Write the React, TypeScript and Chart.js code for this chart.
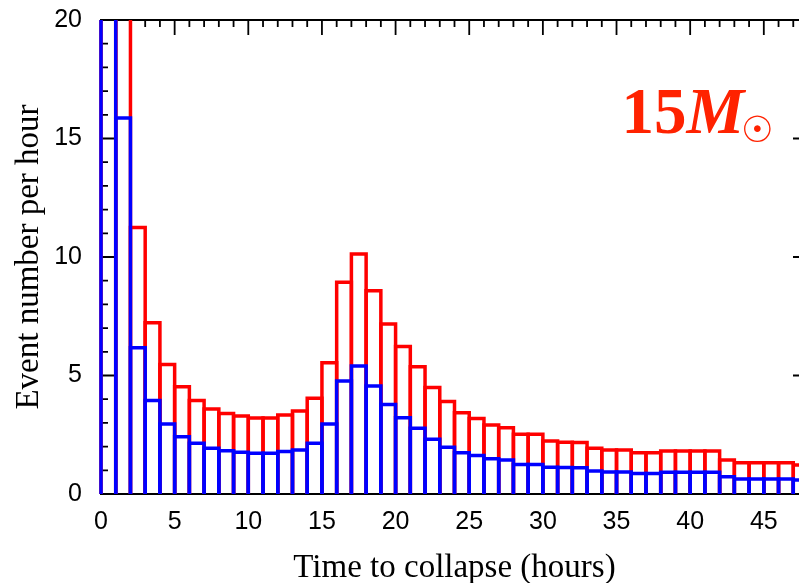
import React, { useEffect, useRef } from 'react';
import { Chart, BarController, BarElement, registerables } from 'chart.js';

// Start of each one-hour bin (hours before collapse)
const hours = [
  0, 1, 2, 3, 4, 5, 6, 7, 8, 9, 10, 11, 12, 13, 14, 15, 16, 17, 18, 19, 20, 21, 22, 23,
  24, 25, 26, 27, 28, 29, 30, 31, 32, 33, 34, 35, 36, 37, 38, 39, 40, 41, 42, 43, 44, 45, 46, 47,
];

// Event rate per hour, upper (red) histogram
const rateUpper = [
  34, 24, 11.24, 7.23, 5.46, 4.53, 3.94, 3.59, 3.4, 3.29,
  3.21, 3.21, 3.33, 3.5, 4.04, 5.54, 8.93, 10.13, 8.58, 7.17,
  6.22, 5.37, 4.49, 3.9, 3.43, 3.19, 2.91, 2.8, 2.52, 2.52,
  2.24, 2.18, 2.17, 1.93, 1.86, 1.86, 1.74, 1.74, 1.81, 1.81,
  1.81, 1.81, 1.43, 1.32, 1.32, 1.32, 1.32, 1.22,
];

// Event rate per hour, lower (blue) histogram
const rateLower = [
  26, 15.87, 6.17, 3.94, 2.95, 2.42, 2.14, 1.93, 1.83, 1.76,
  1.72, 1.72, 1.79, 1.86, 2.14, 2.95, 4.77, 5.4, 4.56, 3.78,
  3.22, 2.77, 2.31, 1.97, 1.74, 1.62, 1.49, 1.43, 1.25, 1.25,
  1.13, 1.12, 1.11, 0.97, 0.93, 0.93, 0.87, 0.87, 0.92, 0.92,
  0.92, 0.92, 0.73, 0.63, 0.63, 0.63, 0.63, 0.59,
];

const xTickValues = [0, 5, 10, 15, 20, 25, 30, 35, 40, 45];
const yTickValues = [0, 5, 10, 15, 20];

const X_MIN = 0;
const X_MAX = 48;
const Y_MIN = 0;
const Y_MAX = 20;

// Histogram bar: open outline (left, top, right) with the stroke centred on the bin edges
class HistBar extends BarElement {
  static id = 'histBar';
  draw(ctx: CanvasRenderingContext2D) {
    const { x, y, base, width } = (this as any).getProps(['x', 'y', 'base', 'width']);
    const o = (this as any).options;
    const l = x - width / 2;
    const r = x + width / 2;
    ctx.save();
    ctx.strokeStyle = o.borderColor;
    ctx.lineWidth = o.borderWidth;
    ctx.lineJoin = 'miter';
    ctx.lineCap = 'butt';
    ctx.beginPath();
    ctx.moveTo(l, base);
    ctx.lineTo(l, y);
    ctx.lineTo(r, y);
    ctx.lineTo(r, base);
    ctx.stroke();
    ctx.restore();
  }
}

class HistController extends BarController {
  static id = 'hist';
  static defaults = { ...(BarController as any).defaults, dataElementType: 'histBar' };
}

Chart.register(...registerables, HistBar, HistController);

// Box frame with inward major/minor ticks on all four sides
const framePlugin = {
  id: 'boxFrame',
  beforeDatasetsDraw(chart: any) {
    const { ctx, chartArea: a, scales } = chart;
    const xs = scales.x;
    const ys = scales.y;
    ctx.save();
    ctx.strokeStyle = '#000';
    ctx.lineWidth = 1.8;
    ctx.beginPath();
    for (let v = Math.ceil(xs.min); v <= xs.max; v++) {
      const px = xs.getPixelForValue(v);
      const len = v % 5 === 0 ? 15 : 7;
      ctx.moveTo(px, a.bottom);
      ctx.lineTo(px, a.bottom - len);
      ctx.moveTo(px, a.top);
      ctx.lineTo(px, a.top + len);
    }
    for (let v = Math.ceil(ys.min); v <= ys.max; v++) {
      const py = ys.getPixelForValue(v);
      const len = v % 5 === 0 ? 15 : 7;
      ctx.moveTo(a.left, py);
      ctx.lineTo(a.left + len, py);
      ctx.moveTo(a.right, py);
      ctx.lineTo(a.right - len, py);
    }
    ctx.stroke();
    ctx.lineWidth = 2;
    ctx.strokeRect(a.left, a.top, a.right - a.left, a.bottom - a.top);
    ctx.restore();
  },
};

// Progenitor mass label: 15 M_sun
const massPlugin = {
  id: 'massLabel',
  afterDraw(chart: any) {
    const ctx: CanvasRenderingContext2D = chart.ctx;
    const color = '#ff2200';
    const baseY = 133;
    ctx.save();
    ctx.fillStyle = color;
    ctx.textAlign = 'left';
    ctx.textBaseline = 'alphabetic';

    ctx.font = 'bold 65px "Liberation Serif"';
    const m1 = ctx.measureText('15');
    let x = 626.5 + m1.actualBoundingBoxLeft;
    ctx.fillText('15', x, baseY);
    x += m1.width;

    ctx.font = 'italic bold 65px "Liberation Serif"';
    ctx.fillText('M', x, baseY);

    const sun = '\u2609';
    ctx.font = '100px "DejaVu Sans"';
    const probe = ctx.measureText(sun);
    const inkW = probe.actualBoundingBoxRight + probe.actualBoundingBoxLeft;
    const size = (100 * 27) / inkW;
    ctx.font = `${size}px "DejaVu Sans"`;
    const ms = ctx.measureText(sun);
    const w = ms.actualBoundingBoxRight + ms.actualBoundingBoxLeft;
    const h = ms.actualBoundingBoxAscent + ms.actualBoundingBoxDescent;
    const cx = 757.5;
    const cy = 128;
    const sx = cx - w / 2 + ms.actualBoundingBoxLeft;
    const sy = cy - h / 2 + ms.actualBoundingBoxAscent;
    ctx.fillText(sun, sx, sy);
    ctx.restore();
  },
};

export default function App() {
  const canvasRef = useRef<HTMLCanvasElement | null>(null);

  useEffect(() => {
    const canvas = canvasRef.current;
    if (!canvas) return;

    const toPoints = (vals: number[]) => hours.map((h, i) => ({ x: h + 0.5, y: vals[i] }));
    const clip = { left: 3, top: 0, right: 0, bottom: 0 };

    const chart = new Chart(canvas, {
      type: 'hist' as any,
      data: {
        datasets: [
          {
            label: 'lower',
            data: toPoints(rateLower),
            borderColor: '#0000ff',
            backgroundColor: 'rgba(0,0,0,0)',
            borderWidth: 3.5,
            grouped: false,
            barPercentage: 1,
            categoryPercentage: 1,
            clip,
          } as any,
          {
            label: 'upper',
            data: toPoints(rateUpper),
            borderColor: '#ff0000',
            backgroundColor: 'rgba(0,0,0,0)',
            borderWidth: 3.5,
            grouped: false,
            barPercentage: 1,
            categoryPercentage: 1,
            clip,
          } as any,
        ],
      },
      options: {
        animation: false,
        responsive: false,
        maintainAspectRatio: false,
        events: [],
        layout: { padding: { top: 20, left: 0, right: 0, bottom: 0 } },
        plugins: {
          legend: { display: false },
          tooltip: { enabled: false },
          title: { display: false },
        },
        scales: {
          x: {
            type: 'linear',
            offset: false,
            min: X_MIN,
            max: X_MAX,
            grid: { display: false, drawTicks: false },
            border: { display: false },
            ticks: {
              includeBounds: false,
              padding: 13,
              color: '#000',
              font: { family: '"Liberation Sans"', size: 25 },
              maxRotation: 0,
              autoSkip: false,
            },
            afterBuildTicks: (s: any) => {
              s.ticks = xTickValues.map((v) => ({ value: v }));
            },
            afterFit: (s: any) => {
              s.height = 89;
              s.paddingLeft = 0;
              s.paddingRight = 0;
            },
            title: {
              display: true,
              text: 'Time to collapse (hours)',
              color: '#000',
              font: { family: '"Liberation Serif"', size: 33, lineHeight: 1 },
              padding: { top: 0, bottom: -1.7 },
            },
          },
          y: {
            type: 'linear',
            min: Y_MIN,
            max: Y_MAX,
            grid: { display: false, drawTicks: false },
            border: { display: false },
            ticks: {
              padding: 19,
              color: '#000',
              font: { family: '"Liberation Sans"', size: 25 },
            },
            afterBuildTicks: (s: any) => {
              s.ticks = yTickValues.map((v) => ({ value: v }));
            },
            afterFit: (s: any) => {
              s.width = 101;
              s.paddingTop = 0;
              s.paddingBottom = 0;
            },
            title: {
              display: true,
              text: 'Event number per hour',
              color: '#000',
              font: { family: '"Liberation Serif"', size: 33, lineHeight: 1 },
              padding: { top: 12.4, bottom: 0 },
            },
          },
        },
      } as any,
      plugins: [framePlugin, massPlugin],
    });

    return () => chart.destroy();
  }, []);

  return (
    <div
      style={{
        position: 'fixed',
        left: 0,
        top: 0,
        width: 799,
        height: 583,
        overflow: 'hidden',
        background: '#ffffff',
      }}
    >
      <canvas
        ref={canvasRef}
        width={808}
        height={583}
        style={{ display: 'block', width: 808, height: 583 }}
      />
    </div>
  );
}
